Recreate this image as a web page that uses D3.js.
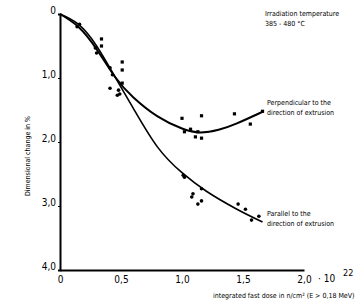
<!DOCTYPE html>
<html>
<head>
<meta charset="utf-8">
<script src="https://cdn.jsdelivr.net/npm/d3@7"></script>
<style>
  body { margin: 0; background: #fff; }
  text { font-family: "DejaVu Sans Condensed", "DejaVu Sans", sans-serif; fill: #000; }
</style>
</head>
<body>
<div id="chart"></div>
<script>
var svgWidth = 364
var svgHeight = 306

// axis ticks
var xTicks = [0, 0.5, 1.0, 1.5, 2.0]
var xTickLabels = ["0", "0,5", "1,0", "1,5", "2,0"]
var yTicks = [0, 1, 2, 3, 4]
var yTickLabels = ["0", "1,0", "2,0", "3,0", "4,0"]

// measured points, perpendicular to extrusion (squares)
var perpDose = [0.34, 0.34, 0.51, 0.51, 0.51, 1.0, 1.16, 1.43, 1.02, 1.07, 1.13, 1.11, 1.16, 1.56, 1.66]
var perpChange = [0.39, 0.5, 0.75, 0.875, 1.08, 1.63, 1.59, 1.56, 1.84, 1.80, 1.84, 1.92, 1.94, 1.72, 1.52]

// measured points, parallel to extrusion (dots)
var parDose = [0.16, 0.14, 0.29, 0.30, 0.41, 0.43, 0.41, 0.48, 0.49, 0.47, 1.01, 1.02, 1.16, 1.09, 1.08, 1.16, 1.13, 1.46, 1.52, 1.57, 1.63]
var parChange = [0.16, 0.2, 0.53, 0.61, 0.84, 0.95, 1.16, 1.19, 1.25, 1.27, 2.52, 2.55, 2.73, 2.81, 2.86, 2.92, 2.97, 2.97, 3.05, 3.22, 3.16]

// fitted curves
var perpCurveDose = [0, 0.15, 0.3, 0.45, 0.6, 0.8, 1.0, 1.15, 1.3, 1.45, 1.67]
var perpCurveChange = [0, 0.2, 0.55, 0.98, 1.3, 1.6, 1.79, 1.85, 1.81, 1.71, 1.52]
var parCurveDose = [0, 0.15, 0.3, 0.45, 0.6, 0.8, 1.0, 1.2, 1.45, 1.66]
var parCurveChange = [0, 0.16, 0.5, 0.98, 1.47, 2.08, 2.48, 2.77, 3.05, 3.25]

var x = d3.scaleLinear().domain([0, 2]).range([60, 304])
var y = d3.scaleLinear().domain([0, 4]).range([14, 270])

var svg = d3.select("#chart").append("svg")
    .attr("width", svgWidth)
    .attr("height", svgHeight)

// axes
var xAxis = d3.axisBottom(x).tickValues(xTicks)
    .tickFormat(function(d, i) { return xTickLabels[i]; })
    .tickSize(0).tickPadding(6)
var gx = svg.append("g").attr("transform", "translate(0," + y(4) + ")").call(xAxis)
gx.select(".domain").attr("stroke", "#000").attr("stroke-width", 2)
gx.selectAll("text").style("font-size", "10px").attr("fill", "#000")

var yAxis = d3.axisLeft(y).tickValues(yTicks)
    .tickFormat(function(d, i) { return yTickLabels[i]; })
    .tickSize(2).tickPadding(2)
var gy = svg.append("g").attr("transform", "translate(" + x(0) + ",0)").call(yAxis)
gy.select(".domain").attr("stroke", "#000").attr("stroke-width", 2)
gy.selectAll(".tick line").attr("stroke", "#000")
gy.selectAll("text").style("font-size", "10px").attr("fill", "#000").attr("dy", "-0.1em")

// multiplier after the last x tick
svg.append("text").attr("x", 318).attr("y", 282).style("font-size", "10px").text("· 10")
svg.append("text").attr("x", 343).attr("y", 276).style("font-size", "9px").text("22")

// curves
var line = d3.line()
    .x(function(d) { return x(d[0]); })
    .y(function(d) { return y(d[1]); })
    .curve(d3.curveNatural)

svg.append("path")
    .datum(d3.zip(perpCurveDose, perpCurveChange))
    .attr("d", line)
    .attr("fill", "none").attr("stroke", "#000").attr("stroke-width", 2)

svg.append("path")
    .datum(d3.zip(parCurveDose, parCurveChange))
    .attr("d", line)
    .attr("fill", "none").attr("stroke", "#000").attr("stroke-width", 1.6)

// points
svg.selectAll("rect.perp")
    .data(d3.zip(perpDose, perpChange))
    .enter().append("rect")
    .attr("class", "perp")
    .attr("x", function(d) { return x(d[0]) - 1.6; })
    .attr("y", function(d) { return y(d[1]) - 1.6; })
    .attr("width", 3.2).attr("height", 3.2)
    .attr("fill", "#000")

svg.selectAll("circle.par")
    .data(d3.zip(parDose, parChange))
    .enter().append("circle")
    .attr("class", "par")
    .attr("cx", function(d) { return x(d[0]); })
    .attr("cy", function(d) { return y(d[1]); })
    .attr("r", 1.8)
    .attr("fill", "#000")

// annotations
function label(lines, lx, ly, dy) {
    var t = svg.append("text").attr("x", lx).attr("y", ly).style("font-size", "7px")
    lines.forEach(function(s, i) {
        t.append("tspan").attr("x", lx).attr("dy", i == 0 ? 0 : dy).text(s)
    })
}
label(["Irradiation temperature", "385 - 480 °C"], 265, 16, 10)
label(["Perpendicular to the", "direction of extrusion"], 267, 105, 10)
label(["Parallel to the", "direction of extrusion"], 267, 216, 10)

svg.append("text").attr("x", 213).attr("y", 298).style("font-size", "7px")
    .text("integrated fast dose in n/cm² (E > 0,18 MeV)")

svg.append("text")
    .attr("transform", "translate(30,156) rotate(-90)")
    .attr("text-anchor", "middle")
    .style("font-size", "7px")
    .text("Dimensional change in %")
</script>
</body>
</html>
